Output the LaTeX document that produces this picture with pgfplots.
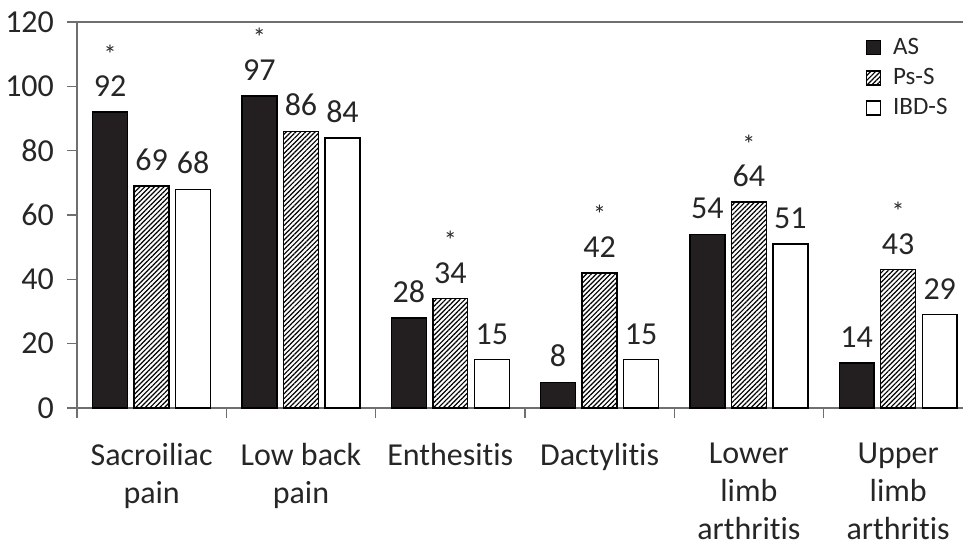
\documentclass[border=0pt]{standalone}
\usepackage{pgfplots}
\pgfplotsset{compat=1.18}
\usepackage{fontspec}
\setmainfont{Carlito}[Ligatures={NoCommon,NoDiscretionary,NoContextual,NoRequired}]
\usetikzlibrary{patterns.meta}
\definecolor{asfill}{HTML}{231F20}
\definecolor{txt}{HTML}{262626}
\definecolor{axcol}{HTML}{6F6F6F}

\tikzset{hatch/.style={pattern={Lines[angle=45,distance=1.7pt,line width=0.6pt]}, pattern color=black}}
\pgfplotsset{sqlegend/.style={legend image code/.code={\draw[##1] (0pt,-3.5pt) rectangle (7pt,3.5pt);}}}

\begin{document}
\begin{tikzpicture}
\useasboundingbox (-38.5pt,-70pt) rectangle (443pt,204pt);
\begin{axis}[
    at={(0,0)}, anchor=south west,
    scale only axis,
    width=443pt, height=193pt,
    xmin=-0.5, xmax=5.434,
    ymin=0, ymax=120,
    enlargelimits=false,
    clip=false,
    axis x line*=bottom,
    axis y line*=left,
    axis line style={axcol, line width=0.6pt},
    tick align=outside,
    major tick length=5pt,
    tick style={axcol, line width=0.6pt},
    ytick={0,20,...,120},
    xtick={-0.5,0.5,1.5,2.5,3.5,4.5},
    xticklabels={},
    extra x ticks={0,1,2,3,4,5},
    extra x tick labels={Sacroiliac\\pain, Low back\\pain, Enthesitis, Dactylitis, Lower\\limb\\arthritis, Upper\\limb\\arthritis},
    extra x tick style={major tick length=0pt},
    xticklabel style={align=center, anchor=north, font=\fontsize{16}{19}\selectfont, text=txt, yshift=-14pt},
    yticklabel style={font=\fontsize{16}{18}\selectfont, text=txt, xshift=-3pt},
    /pgf/number format/assume math mode=true,
    ybar,
    bar width=0.234,
    nodes near coords,
    nodes near coords style={font=\fontsize{16}{18}\selectfont, text=txt, yshift=4pt},
    legend style={draw=none, fill=none, at={(0.883,0.98)}, anchor=north west,
        font=\fontsize{12.5}{14}\selectfont, text=txt, row sep=1.5pt, column sep=4pt},
    legend cell align=left,
]
\addplot[fill=asfill, draw=black, line width=0.7pt, bar shift=-0.278, sqlegend]
    coordinates {(0,92) (1,97) (2,28) (3,8) (4,54) (5,14)};
\addplot[hatch, draw=black, line width=0.7pt, bar shift=0, sqlegend]
    coordinates {(0,69) (1,86) (2,34) (3,42) (4,64) (5,43)};
\addplot[fill=white, draw=black, line width=0.7pt, bar shift=0.278, sqlegend]
    coordinates {(0,68) (1,84) (2,15) (3,15) (4,51) (5,29)};
\legend{AS, Ps-S, IBD-S}

% significance stars
\addplot[forget plot, draw=none, fill=none, bar shift=-0.278,
    nodes near coords={*}, nodes near coords style={font=\fontsize{13}{14}\selectfont, yshift=17pt}]
    coordinates {(0,92) (1,97)};
\addplot[forget plot, draw=none, fill=none, bar shift=0,
    nodes near coords={*}, nodes near coords style={font=\fontsize{13}{14}\selectfont, yshift=17pt}]
    coordinates {(2,34) (3,42) (4,64) (5,43)};

\draw[axcol, line width=0.6pt] (rel axis cs:0,1) -- (rel axis cs:1,1);
\end{axis}
\end{tikzpicture}
\end{document}
